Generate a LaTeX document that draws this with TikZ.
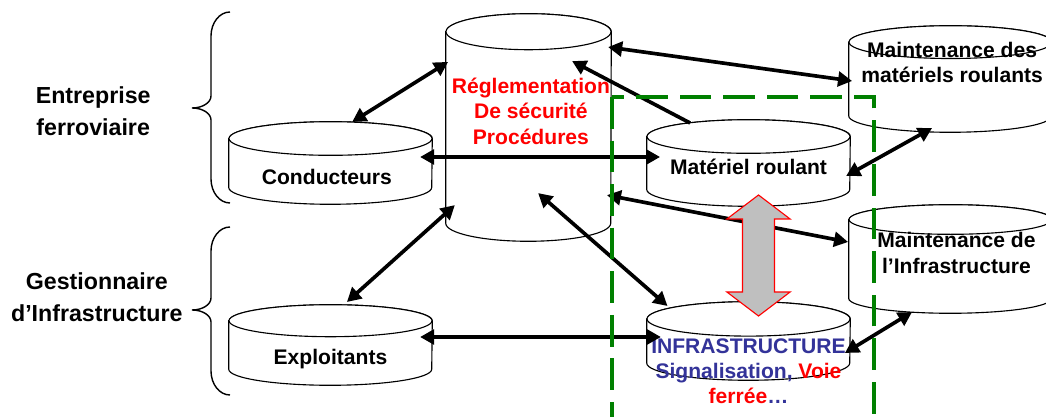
\documentclass[tikz,border=0pt]{standalone}
\usepackage{fontspec}
\setmainfont{Liberation Sans}
\usepackage{xcolor}
\usetikzlibrary{arrows.meta, calc}

\definecolor{regred}{RGB}{255,0,0}
\definecolor{infblue}{RGB}{51,51,153}
\definecolor{zonegreen}{RGB}{0,128,0}

\begin{document}
\begin{tikzpicture}[
    >={Triangle[length=10pt, width=10.5pt]},
    every node/.style={font=\bfseries\fontsize{15}{18}\selectfont, inner sep=0pt},
    tank/.style={rectangle, minimum width=5.075cm, inner sep=0pt},
    tankline/.style={draw, line width=0.8pt, fill=white},
    tanktext/.style={align=center},
    sidetext/.style={align=center, font=\bfseries\fontsize{16.5}{22.5}\selectfont},
    sidebrace/.style={line width=1pt},
    link/.style={line width=2.6pt},
    zone/.style={zonegreen, line width=2.8pt, dash pattern=on 22.5pt off 8.5pt},
    bigarrow/.style={fill=black!25, draw=regred, line width=0.8pt, line join=miter}
]
\useasboundingbox (0,0) rectangle (26.15,10.425);

% ============================================================
% 1. TANKS
% ============================================================
\node[tank, minimum height=2.05cm] (cond) at (8.2625, 6.35) {};
\node[tank, minimum height=2.0cm]  (expl) at (8.2625, 1.8) {};
\node[tank, minimum width=4.125cm, minimum height=5.675cm] (regl) at (13.2125, 7.2375) {};
\node[tank, minimum height=2.15cm] (matr) at (18.7125, 6.35) {};
\node[tank, minimum height=1.95cm] (infr) at (18.7125, 1.9) {};
\node[tank, minimum height=2.65cm] (mmr)  at (23.7625, 8.45) {};
\node[tank, minimum height=2.7cm]  (minf) at (23.7625, 3.95) {};

\foreach \tk/\rx/\ry in {cond/2.5375cm/0.42cm, expl/2.5375cm/0.4cm, regl/2.0625cm/0.45cm,
    matr/2.5375cm/0.42cm, infr/2.5375cm/0.43cm, mmr/2.5375cm/0.41cm, minf/2.5375cm/0.37cm} {
  \draw[tankline] ([yshift=-\ry]\tk.north west) -- ([yshift=\ry]\tk.south west)
      arc[start angle=180, end angle=360, x radius=\rx, y radius=\ry]
      -- ([yshift=-\ry]\tk.north east)
      arc[start angle=0, end angle=180, x radius=\rx, y radius=\ry] -- cycle;
  \draw[tankline] ([yshift=-\ry]\tk.north) ellipse[x radius=\rx, y radius=\ry];
}

\node[tanktext, text=regred] (regltxt) at ([shift={(0.06,0.41)}]regl.center) {Réglementation\\De sécurité\\Procédures};
\node (condtxt) at ([shift={(-0.09,-0.35)}]cond.center) {Conducteurs};
\node (expltxt) at ([yshift=-0.36cm]expl.center) {Exploitants};
\node (matrtxt) at ([yshift=-0.1cm]matr.center) {Matériel roulant};
\node[tanktext, text=infblue] (infrtxt) at ([yshift=-0.76cm]infr.center)
    {INFRASTRUCTURE\\Signalisation, \textcolor{regred}{Voie}\\\textcolor{regred}{ferrée}…};
\node[tanktext] (mmrtxt)  at ([shift={(0.04,0.41)}]mmr.center) {Maintenance des\\matériels roulants};
\node[tanktext] (minftxt) at ([shift={(0.15,0.15)}]minf.center) {Maintenance de\\l’Infrastructure};

% ============================================================
% 2. GROUPS
% ============================================================
\node[sidetext] (ef) at (2.33, 7.65) {Entreprise\\ferroviaire};
\node[sidetext] (gi) at (2.42, 2.99) {Gestionnaire\\d’Infrastructure};

\foreach \ytop/\ytip/\ybot in {10.125/7.725/5.35, 4.75/2.675/0.55}
  \draw[sidebrace] (5.75,\ytop) arc[start angle=90, end angle=180, x radius=0.475, y radius=0.6]
      -- (5.275,\ytip+0.3) arc[start angle=0, end angle=-90, x radius=0.475, y radius=0.3]
      arc[start angle=90, end angle=0, x radius=0.475, y radius=0.3]
      -- (5.275,\ybot+0.6) arc[start angle=180, end angle=270, x radius=0.475, y radius=0.6];

% ============================================================
% 3. LINKS
% ============================================================
\draw[<->, link] ([shift={(0.54,1.025)}]cond.center) -- ([shift={(-2.01,1.64)}]regl.center);
\draw[<->, link] ([shift={(2.24,0.15)}]cond.center) -- ([shift={(-2.21,0.15)}]matr.center);
\draw[<->, link] ([shift={(1.99,2.01)}]regl.center) -- ([shift={(-2.46,-0.05)}]mmr.center);
\draw[->, link]  ([shift={(-1.46,1.0)}]matr.center) -- ([shift={(1.09,1.66)}]regl.center);
\draw[<->, link] ([shift={(2.44,-0.325)}]matr.center) -- ([shift={(-0.46,-1.225)}]mmr.center);
\draw[<->, link] ([shift={(1.96,-1.69)}]regl.center) -- ([shift={(-2.56,0.425)}]minf.center);
\draw[<->, link] ([shift={(0.24,-1.64)}]regl.center) -- ([shift={(-2.025,0.875)}]infr.center);
\draw[<->, link] ([shift={(-1.84,-1.94)}]regl.center) -- ([shift={(0.41,1.075)}]expl.center);
\draw[<->, link] ([shift={(2.24,0.2)}]expl.center) -- ([shift={(-2.19,0.1)}]infr.center);
\draw[<->, link] ([shift={(2.41,-0.3)}]infr.center) -- ([shift={(-0.96,-1.325)}]minf.center);

% rolling stock / track interface zone
\draw[zone] (15.3,8.0) -- (15.3,-0.3);
\draw[zone, dash phase=20pt] (21.85,-0.3) |- (15.3,8.0);

% fat double arrow between rolling stock and infrastructure
\draw[bigarrow] ([shift={(0.25,-0.8)}]matr.center) -- ++(0.79,-0.6) -- ++(-0.39,0) -- ++(0,-1.825)
    -- ++(0.39,0) -- ++(-0.79,-0.6) -- ++(-0.79,0.6) -- ++(0.39,0) -- ++(0,1.825) -- ++(-0.39,0) -- cycle;

\end{tikzpicture}
\end{document}
